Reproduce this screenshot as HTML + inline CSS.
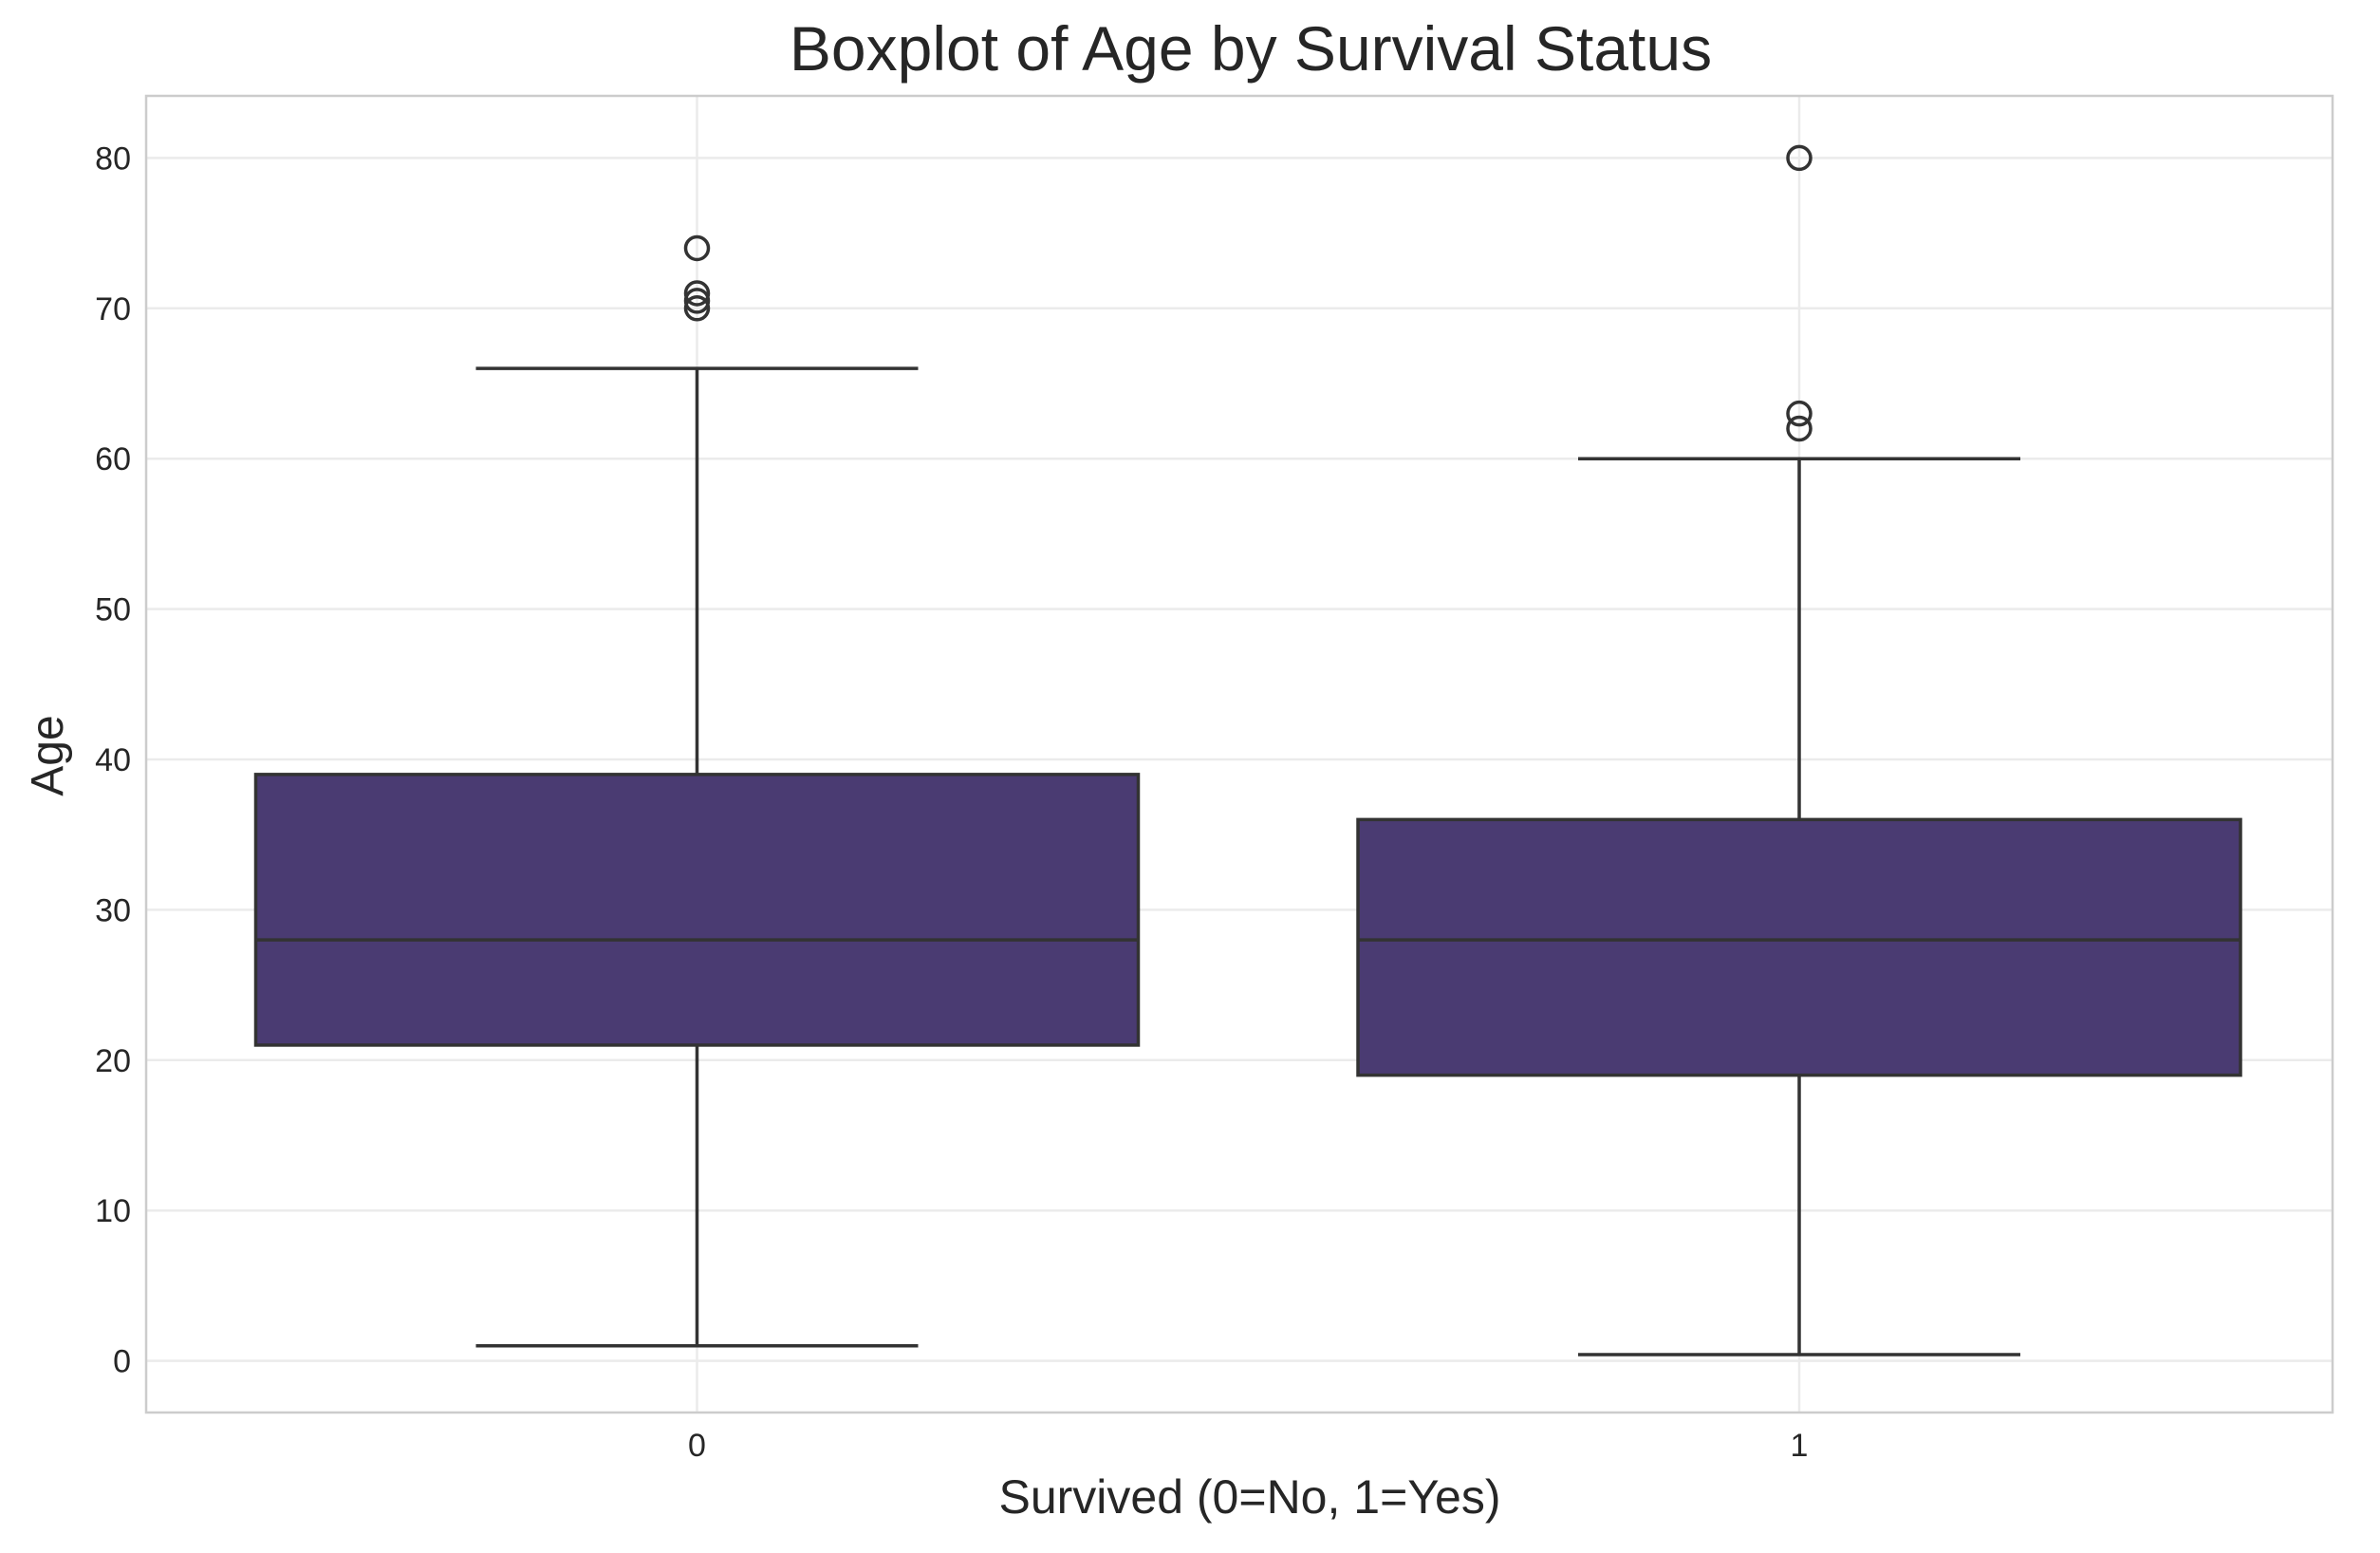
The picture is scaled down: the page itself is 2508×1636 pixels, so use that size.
<!DOCTYPE html>
<html><head><meta charset="utf-8"><style>
html,body{margin:0;padding:0;background:#fff;}
svg{display:block;font-family:"Liberation Sans",sans-serif;}
</style></head><body>
<svg id="chart" width="2508" height="1636" xmlns="http://www.w3.org/2000/svg">
<text x="1318" y="74" font-size="66" text-anchor="middle" fill="#262626">Boxplot of Age by Survival Status</text>
<text x="1317" y="1594" font-size="50" text-anchor="middle" fill="#262626">Survived (0=No, 1=Yes)</text>
<text transform="translate(66,796) rotate(-90)" font-size="48" text-anchor="middle" fill="#262626">Age</text>
<g id="grid"></g>
<g id="marks"></g>
<rect x="154" y="101" width="2304" height="1387" fill="none" stroke="#cccccc" stroke-width="2.5"/>
</svg>
<script>
const categories = ["0", "1"];
const q1 = [21, 19];
const medians = [28, 28];
const q3 = [39, 36];
const whiskerLow = [1, 0.42];
const whiskerHigh = [66, 60];
const outliers = [[70, 70.5, 71, 74], [62, 63, 80]];
const yTicks = [0, 10, 20, 30, 40, 50, 60, 70, 80];

const NS = "http://www.w3.org/2000/svg";
const left = 154, right = 2458;
function yScale(v){ return 1433.6 - v * 15.84; }
function xScale(i){ return 734.5 + i * 1161.5; }
const halfBox = 465, halfCap = 233;
function mk(tag, attrs, parent){
  const e = document.createElementNS(NS, tag);
  for (const k in attrs) e.setAttribute(k, attrs[k]);
  parent.appendChild(e); return e;
}
const grid = document.getElementById('grid');
const marks = document.getElementById('marks');
const svg = document.getElementById('chart');
yTicks.forEach(t => {
  const y = yScale(t);
  const l = mk('line', {x1:left, x2:right, y1:y, y2:y, stroke:'#ebebeb', 'stroke-width':2.5}, grid);
  
  
  const tx = mk('text', {x:138, y:y+12, 'font-size':34, 'text-anchor':'end', fill:'#262626'}, svg);
  tx.textContent = t;
  
  
});
categories.forEach((c, i) => {
  const x = xScale(i);
  const l = mk('line', {x1:x, x2:x, y1:101, y2:1488, stroke:'#ebebeb', 'stroke-width':2.5}, grid);
  
  
  const tx = mk('text', {x:x, y:1534, 'font-size':34, 'text-anchor':'middle', fill:'#262626'}, svg);
  tx.textContent = c;
  
  
  const st = {stroke:'#333333', 'stroke-width':3.5, fill:'none'};
  const w1 = mk('line', Object.assign({x1:x, x2:x, y1:yScale(q1[i]), y2:yScale(whiskerLow[i])}, st), marks);
  
  
  const w2 = mk('line', Object.assign({x1:x, x2:x, y1:yScale(q3[i]), y2:yScale(whiskerHigh[i])}, st), marks);
  
  
  const c1 = mk('line', Object.assign({x1:x-halfCap, x2:x+halfCap, y1:yScale(whiskerLow[i]), y2:yScale(whiskerLow[i])}, st), marks);
  
  
  const c2 = mk('line', Object.assign({x1:x-halfCap, x2:x+halfCap, y1:yScale(whiskerHigh[i]), y2:yScale(whiskerHigh[i])}, st), marks);
  
  
  const b = mk('rect', {x:x-halfBox, y:yScale(q3[i]), width:2*halfBox, height:yScale(q1[i])-yScale(q3[i]), fill:'#4a3b72', stroke:'#333333', 'stroke-width':3.5}, marks);
  
  
  const m = mk('line', Object.assign({x1:x-halfBox, x2:x+halfBox, y1:yScale(medians[i]), y2:yScale(medians[i])}, st), marks);
  
  
  outliers[i].forEach(v => {
    const o = mk('circle', {cx:x, cy:yScale(v), r:12, fill:'none', stroke:'#333333', 'stroke-width':3.5}, marks);
    
    
  });
});
</script>
</body></html>
